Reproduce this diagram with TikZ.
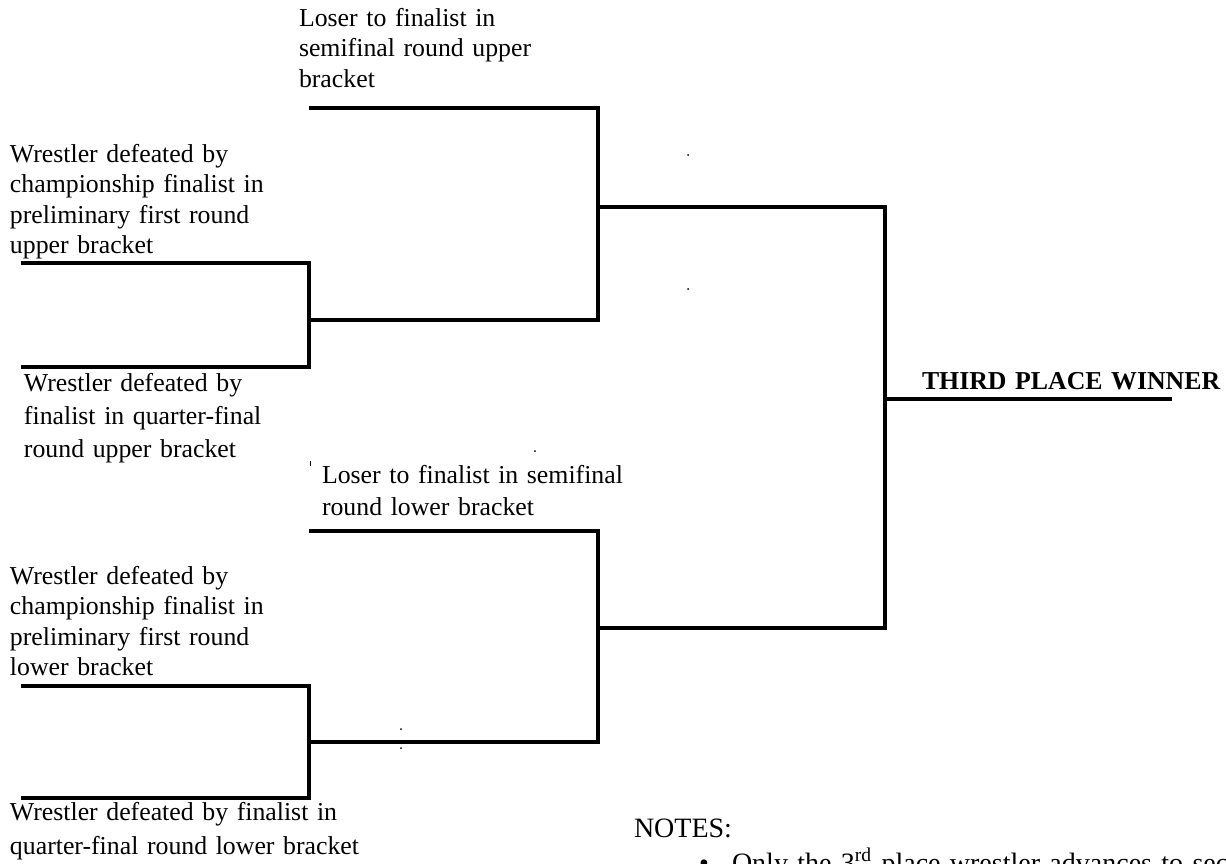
\documentclass[tikz,border=0pt]{standalone}
\usepackage{fontspec}
\setmainfont{Liberation Serif}

\begin{document}
\begin{tikzpicture}[x=0.5pt,y=-0.5pt,
    line width=2pt, line join=miter,
    every node/.style = {inner sep=0pt, anchor=base west,
    align=left, text width=200pt},
    lbl/.style={font=\fontsize{12.9}{15.3}\selectfont},
    lblwide/.style={font=\fontsize{12.9}{16.5}\selectfont},
    lblnote/.style={font=\fontsize{14}{17}\selectfont, text width=300pt},
    speck/.style={fill=black}]
    \clip (0,0) rectangle (1226,863);
    % bracket corners and free ends
    \coordinate (q1tw) at (21,263);
    \coordinate (q1t) at (309,263);
    \coordinate (q1b) at (309,367);
    \coordinate (q1bw) at (21,367);
    \coordinate (q1o) at (309,320);
    \coordinate (s1tw) at (309,108);
    \coordinate (s1t) at (598,108);
    \coordinate (s1b) at (598,320);
    \coordinate (s1o) at (598,207);
    \coordinate (q2tw) at (21,686);
    \coordinate (q2t) at (309,686);
    \coordinate (q2b) at (309,798);
    \coordinate (q2bw) at (21,798);
    \coordinate (q2o) at (309,742);
    \coordinate (s2tw) at (309,531);
    \coordinate (s2t) at (598,531);
    \coordinate (s2b) at (598,742);
    \coordinate (s2o) at (598,628);
    \coordinate (f1) at (885,207);
    \coordinate (f2) at (885,628);
    \coordinate (fo) at (885,399);
    \coordinate (win) at (1172,399);
    \draw (q1tw) -- (q1t) -- (q1b) -- (q1bw);
    \draw (q2tw) -- (q2t) -- (q2b) -- (q2bw);
    \draw (s1tw) -- (s1t) -- (s1b) -- (q1o);
    \draw (s2tw) -- (s2t) -- (s2b) -- (q2o);
    \draw (s1o) -- (f1) -- (f2) -- (s2o);
    \draw (fo) -- (win);
    % labels
    \node[lbl] (sf1) at (297,26)
        {Loser to finalist in\\semifinal round upper\\bracket};
    \node[lbl] (pr1) at (8,162)
        {Wrestler defeated by\\championship finalist in\\preliminary first round\\upper bracket};
    \node[lblwide] (qf1) at (22,391)
        {Wrestler defeated by\\finalist in quarter-final\\round upper bracket};
    \node[lbl, font=\fontsize{12.9}{16}\selectfont] (sf2) at (320,483)
        {Loser to finalist in semifinal\\round lower bracket};
    \node[lbl] (pr2) at (8,584)
        {Wrestler defeated by\\championship finalist in\\preliminary first round\\lower bracket};
    \node[lbl, font=\fontsize{12.9}{17}\selectfont] (qf2) at (8,820)
        {Wrestler defeated by finalist in\\quarter-final round lower bracket};
    \node[lbl, font=\fontsize{12.9}{15.3}\selectfont\bfseries] (third) at (920,389)
        {THIRD PLACE WINNER};
    \node[lblnote] (notes) at (632,837) {NOTES:};
    \node[lblnote, text width=20pt] (bul) at (697,872) {•};
    \node[lblnote] (only) at (730,872)
        {Only the 3\textsuperscript{rd} place wrestler advances to sec};
    % stray specks
    \fill[speck] (688,155) circle (1);
    \fill[speck] (688,289) circle (1);
    \fill[speck] (535,451) circle (1);
    \fill[speck] (401,729) circle (1);
    \fill[speck] (401,748) circle (1);
    \draw[line width=0.5pt] (310,461) -- (310,466);
\end{tikzpicture}
\end{document}
